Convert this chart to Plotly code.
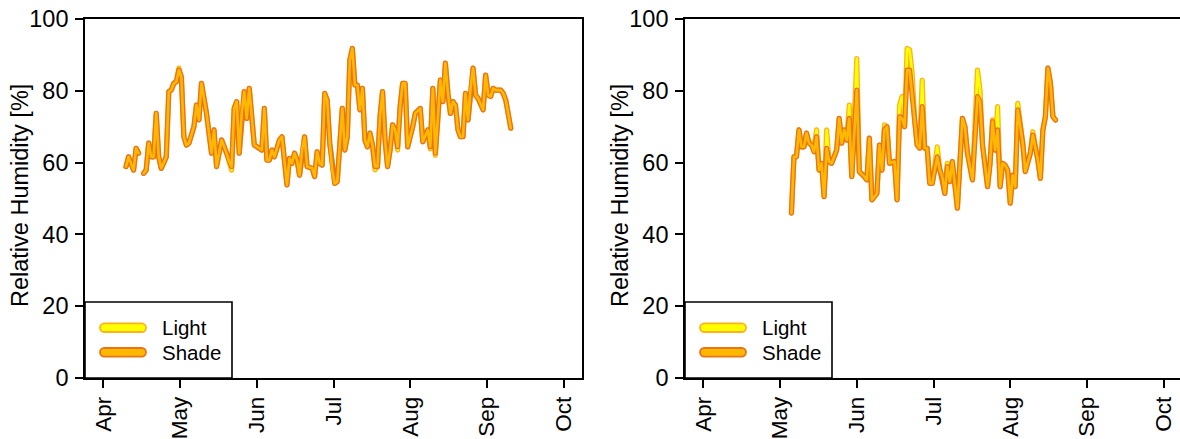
import plotly.graph_objects as go

# ---------------- data (day offset from 1 April, relative humidity %) ----------------
months = ["Apr", "May", "Jun", "Jul", "Aug", "Sep", "Oct"]
month_pos = [0, 30.5, 61, 91.5, 122, 152.5, 183]

left_days = [9, 10, 12, 13, 14, 15, 16, 17, 18, 19, 20, 21, 22, 23, 25, 26, 27, 28, 29, 30,
             31, 32, 33, 34, 36, 37, 38, 39, 41, 42, 43, 44, 45, 46, 47, 49, 50, 51, 52, 53,
             54, 55, 56, 57, 58, 60, 62, 63, 64, 65, 66, 67, 68, 70, 71, 72, 73, 74, 75, 76,
             77, 78, 79, 80, 81, 83, 84, 85, 86, 87, 88, 89, 90, 91, 92, 93, 95, 96, 97, 98,
             99, 100, 101, 102, 103, 104, 105, 106, 107, 108, 109, 110, 111, 112, 113, 114, 115, 116, 117, 118,
             119, 120, 121, 123, 124, 126, 127, 129, 130, 131, 132, 133, 134, 135, 136, 137, 138, 139, 140, 141,
             142, 143, 144, 145, 146, 147, 148, 149, 151, 152, 153, 154, 155, 156, 158, 159, 160, 162]
left_shade = [58.9, 61.6, 57.9, 64.0, 62.6, None, 57.0, 57.9, 65.4, 61.6, 61.6, 73.7, 61.6, 58.4, 61.6, 79.8, 80.2, 82.1, 82.5, 85.8,
              83.9, 67.2, 64.9, 65.4, 70.0, 76.0, 71.9, 82.1, 73.7, 68.2, 62.6, 69.1, 58.9, 62.6, 66.3, 62.6, 60.3, 58.9, 75.1, 77.0,
              62.6, 73.7, 79.8, 72.3, 80.7, 64.9, 64.0, 63.5, 75.1, 60.7, 60.7, 63.5, 61.6, 66.3, 67.2, 59.8, 53.8, 61.2, 59.8, 62.6,
              60.7, 56.5, 63.5, 67.2, 58.9, 58.4, 56.1, 63.0, 59.8, 59.3, 79.3, 77.4, 65.4, 57.9, 54.2, 54.7, 75.1, 63.5, 67.2, 88.6,
              91.8, 81.6, 81.6, 74.7, 80.7, 66.3, 64.4, 68.2, 64.9, 58.9, 58.9, 72.8, 79.8, 66.3, 58.9, 63.5, 70.5, 69.1, 64.4, 75.6,
              82.1, 82.1, 64.4, 70.0, 73.7, 75.1, 65.8, 69.1, 64.4, 80.7, 62.6, 72.3, 83.0, 77.0, 87.7, 79.3, 73.7, 77.0, 76.0, 69.1,
              67.2, 67.2, 79.3, 71.9, 80.7, 86.3, 78.8, 77.9, 74.7, 84.4, 78.8, 78.4, 80.7, 80.2, 80.2, 79.3, 77.4, 69.6]
left_light = [58.9, 61.6, 57.9, 64.0, 62.6, None, 57.0, 57.9, 65.4, 61.6, 61.6, 73.7, 61.6, 58.4, 61.6, 79.8, 80.2, 82.1, 82.5, 86.3,
              83.9, 67.2, 64.9, 65.4, 70.0, 76.0, 71.9, 82.1, 73.7, 68.2, 62.6, 69.1, 58.9, 62.6, 66.3, 62.6, 60.3, 57.9, 75.1, 77.0,
              62.6, 73.7, 79.8, 72.3, 80.7, 64.9, 64.0, 63.5, 75.1, 60.7, 60.7, 63.5, 61.6, 66.3, 67.2, 59.8, 53.8, 61.2, 59.8, 62.6,
              60.7, 56.5, 63.5, 67.2, 58.9, 58.4, 56.1, 63.0, 59.8, 59.3, 79.3, 77.4, 65.4, 57.9, 54.2, 54.7, 75.1, 63.5, 67.2, 88.6,
              91.8, 81.6, 81.6, 74.7, 80.7, 66.3, 64.4, 68.2, 64.9, 58.0, 58.9, 72.8, 79.8, 66.3, 58.9, 63.5, 70.5, 69.1, 63.5, 75.6,
              82.1, 82.1, 64.4, 70.0, 73.7, 75.1, 65.8, 69.1, 63.8, 80.7, 62.0, 72.3, 83.0, 77.0, 87.7, 79.3, 73.7, 77.0, 76.0, 69.1,
              67.2, 67.2, 79.3, 71.9, 80.7, 86.3, 78.8, 77.9, 74.7, 84.4, 78.8, 78.4, 80.7, 80.2, 80.2, 79.3, 77.4, 69.6]

right_days = [35, 36, 37, 38, 39, 40, 41, 42, 43, 44, 45, 46, 47, 48, 49, 50, 51, 53, 54, 55,
              56, 57, 58, 59, 61, 62, 64, 65, 66, 67, 69, 70, 71, 72, 73, 74, 76, 77, 78, 79,
              80, 81, 82, 83, 84, 85, 86, 87, 88, 89, 90, 91, 93, 94, 95, 96, 97, 98, 99, 101,
              103, 104, 105, 107, 109, 110, 111, 113, 114, 115, 116, 117, 118, 119, 120, 121, 122, 123, 124, 125,
              127, 128, 130, 131, 133, 134, 135, 136, 137, 138, 139, 140]
right_shade = [45.9, 61.6, 61.6, 69.1, 64.4, 64.4, 68.2, 65.4, 64.9, 63.0, 67.2, 57.9, 59.8, 50.5, 64.0, 60.3, 59.8, 63.5, 72.3, 65.4,
               69.1, 66.3, 72.3, 56.1, 80.2, 57.5, 56.1, 55.2, 66.8, 49.6, 51.4, 64.9, 57.9, 69.1, 70.0, 59.8, 60.3, 49.6, 72.8, 72.3,
               70.0, 85.8, 85.8, 78.4, 71.9, 64.9, 64.0, 75.6, 64.0, 64.0, 54.2, 54.2, 61.6, 57.9, 56.1, 51.4, 58.9, 54.7, 60.3, 47.3,
               72.3, 70.0, 62.6, 55.2, 78.4, 77.0, 64.9, 53.3, 59.8, 71.4, 63.5, 69.1, 53.3, 59.8, 59.3, 57.9, 48.7, 56.5, 53.3, 74.7,
               65.4, 57.5, 62.6, 67.7, 60.7, 55.6, 69.1, 72.8, 86.3, 82.1, 72.8, 71.9]
right_light = [45.9, 61.6, 61.6, 69.1, 64.4, 64.4, 68.2, 65.4, 65.5, 64.0, 69.1, 57.9, 59.8, 50.5, 69.1, 60.3, 59.8, 63.5, 72.3, 65.4,
               69.1, 66.3, 76.0, 56.1, 89.0, 57.5, 56.1, 55.2, 66.8, 49.6, 51.4, 64.9, 57.9, 70.5, 70.0, 59.8, 60.3, 49.6, 76.0, 78.4,
               70.0, 91.8, 91.4, 85.0, 71.9, 64.9, 64.0, 83.0, 64.0, 64.0, 54.2, 54.2, 64.4, 57.9, 56.1, 51.4, 59.8, 54.7, 60.3, 47.3,
               72.3, 70.0, 62.6, 55.2, 85.8, 80.2, 64.9, 53.3, 59.8, 71.9, 63.5, 75.6, 53.3, 59.8, 59.3, 57.9, 48.7, 56.5, 53.3, 76.5,
               65.4, 57.5, 62.6, 68.6, 60.7, 55.6, 69.1, 72.8, 86.3, 82.1, 72.8, 71.9]

series_names = ["Light", "Shade"]
fill_colors = {"Light": "#FFFF00", "Shade": "#FFB800"}
edge_colors = {"Light": "#FFB21E", "Shade": "#E8731A"}

# ---------------- layout geometry ----------------
W, H = 1180, 439
ML, MR, MT, MB = 85, 0, 19, 61
PW, PH = W - ML - MR, H - MT - MB
FONT = "Liberation Sans, Arial, sans-serif"


def px(x):
    return (x - ML) / PW


def py(y):
    return 1 - (y - MT) / PH


fig = go.Figure()

panels = [("x", "y", left_days, left_light, left_shade),
          ("x2", "y2", right_days, right_light, right_shade)]

for xa, ya, days, light, shade in panels:
    for name, vals in zip(series_names, [light, shade]):
        fig.add_trace(go.Scatter(x=days, y=vals, xaxis=xa, yaxis=ya, mode="lines",
                                 line=dict(color=edge_colors[name], width=5.2),
                                 connectgaps=False, showlegend=False, hoverinfo="skip"))
        fig.add_trace(go.Scatter(x=days, y=vals, xaxis=xa, yaxis=ya, mode="lines", name=name,
                                 line=dict(color=fill_colors[name], width=2.6),
                                 connectgaps=False, showlegend=False))

axis_common = dict(showline=True, linecolor="black", linewidth=1.6, ticks="outside",
                   ticklen=8, tickwidth=1.6, tickcolor="black", showgrid=False, zeroline=False,
                   automargin=False)
yfont = dict(family=FONT, size=23.5, color="black")
xfont = dict(family=FONT, size=22.5, color="black")

left_w = 497 / PW
right_x0 = 600 / PW
day_per_px = (183 * 1.08) / 497
fig.update_layout(
    width=W, height=H, margin=dict(l=ML, r=MR, t=MT, b=MB, autoexpand=False),
    paper_bgcolor="white", plot_bgcolor="white", showlegend=False,
    xaxis=dict(domain=[0, left_w], range=[-0.04 * 183, 1.04 * 183], tickvals=month_pos,
               ticktext=months, tickangle=-90, mirror=True, anchor="y", tickfont=xfont,
               **axis_common),
    yaxis=dict(domain=[0, 1], range=[0, 100], tickvals=[0, 20, 40, 60, 80, 100],
               mirror=True, anchor="x", ticklabelstandoff=2, tickfont=yfont, **axis_common),
    xaxis2=dict(domain=[right_x0, 1], range=[-0.04 * 183, -0.04 * 183 + (PW - 600) * day_per_px],
                tickvals=month_pos, ticktext=months, tickangle=-90, mirror=True, anchor="y2",
                tickfont=xfont, **axis_common),
    yaxis2=dict(domain=[0, 1], range=[0, 100], tickvals=[0, 20, 40, 60, 80, 100],
                mirror=False, anchor="x2", ticklabelstandoff=2, tickfont=yfont, **axis_common),
)

shapes = []
annotations = []


def capsule(x0, x1, yc, r):
    k = 0.5523 * r
    pts = [
        ("M", [(x0 + r, yc - r)]),
        ("L", [(x1 - r, yc - r)]),
        ("C", [(x1 - r + k, yc - r), (x1, yc - k), (x1, yc)]),
        ("C", [(x1, yc + k), (x1 - r + k, yc + r), (x1 - r, yc + r)]),
        ("L", [(x0 + r, yc + r)]),
        ("C", [(x0 + r - k, yc + r), (x0, yc + k), (x0, yc)]),
        ("C", [(x0, yc - k), (x0 + r - k, yc - r), (x0 + r, yc - r)]),
    ]
    s = ""
    for cmd, ps in pts:
        s += cmd + " " + " ".join(f"{px(a):.6f},{py(b):.6f}" for a, b in ps) + " "
    return s + "Z"


for off in [0, 600]:
    # legend box
    shapes.append(dict(type="rect", xref="paper", yref="paper", x0=px(85 + off), x1=px(232 + off),
                       y0=py(378), y1=py(302), line=dict(color="black", width=1.6),
                       fillcolor="white", layer="above"))
    for name, yc in zip(series_names, [327.7, 352.3]):
        shapes.append(dict(type="path", xref="paper", yref="paper",
                           path=capsule(100 + off, 146 + off, yc, 4.3),
                           fillcolor=fill_colors[name], line=dict(color=edge_colors[name], width=1.8),
                           layer="above"))
        annotations.append(dict(xref="paper", yref="paper", x=px(160 + off), y=py(yc),
                                xanchor="left", yanchor="middle", text=name, showarrow=False,
                                font=dict(family=FONT, size=20.5, color="black")))
    # y axis title
    annotations.append(dict(xref="paper", yref="paper", x=px(20 + off), y=py(196),
                            xanchor="center", yanchor="middle", text="Relative Humidity [%]",
                            textangle=-90, showarrow=False,
                            font=dict(family=FONT, size=23.5, color="black")))

fig.update_layout(shapes=shapes, annotations=annotations)

round_joins = (
    "var st=document.createElement('style');"
    "st.innerHTML='.scatterlayer path.js-line{stroke-linejoin:round !important;"
    "stroke-linecap:round !important;}';"
    "document.head.appendChild(st);"
)
fig.write_html("out.html", post_script=round_joins)
